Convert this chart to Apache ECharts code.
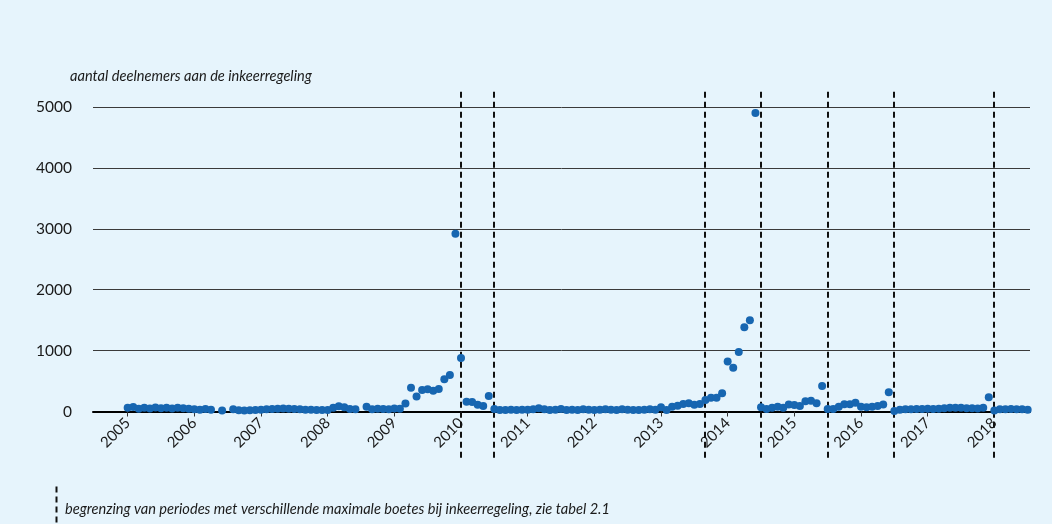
<!DOCTYPE html>
<html>
<head>
<meta charset="utf-8">
<script src="https://cdn.jsdelivr.net/npm/echarts@6/dist/echarts.min.js"></script>
<style>
html,body{margin:0;padding:0;background:#e6f4fc;}
#chart{width:1052px;height:524px;}
</style>
</head>
<body>
<div id="chart"></div>
<script>
// ---- data (monthly number of participants, Jan..Dec; null = no value) ----
const v2005 = [60, 75, 45, 60, 50, 65, 55, 60, 50, 60, 55, 45];
const v2006 = [35, 30, 40, 30, null, 15, null, 35, 20, 15, 20, 25];
const v2007 = [30, 35, 40, 45, 50, 45, 40, 35, 30, 30, 25, 25];
const v2008 = [25, 60, 85, 70, 40, 35, null, 80, 35, 45, 40, 35];
const v2009 = [50, 45, 130, 390, 245, 355, 365, 340, 370, 530, 600, 2920];
const v2010 = [880, 160, 155, 110, 90, 255, 40, 25, 25, 30, 25, 30];
const v2011 = [30, 35, 55, 35, 25, 30, 40, 25, 30, 25, 35, 30];
const v2012 = [25, 30, 35, 30, 25, 35, 30, 25, 25, 30, 35, 30];
const v2013 = [70, 25, 80, 95, 125, 135, 110, 125, 190, 225, 225, 300];
const v2014 = [820, 720, 975, 1385, 1500, 4900, 70, 40, 60, 80, 60, 115];
const v2015 = [105, 90, 170, 175, 135, 420, 40, 40, 80, 120, 120, 145];
const v2016 = [80, 70, 80, 90, 115, 315, 10, 30, 35, 35, 40, 40];
const v2017 = [45, 40, 45, 55, 60, 60, 60, 55, 55, 50, 60, 235];
const v2018 = [15, 35, 35, 40, 35, 35, 30];

const years = [2005, 2006, 2007, 2008, 2009, 2010, 2011, 2012, 2013, 2014, 2015, 2016, 2017, 2018];
const yearValues = [v2005, v2006, v2007, v2008, v2009, v2010, v2011, v2012, v2013, v2014, v2015, v2016, v2017, v2018];
const yTicks = [0, 1000, 2000, 3000, 4000, 5000];
// period boundaries (decimal years)
const boundaries = [2010, 2010.5, 2013 + 8 / 12, 2014.5, 2015.5, 2016.5, 2018];

const yTitle = 'aantal deelnemers aan de inkeerregeling';
const legendText = 'begrenzing van periodes met verschillende maximale boetes bij inkeerregeling, zie tabel 2.1';

// ---- build ----
const points = [];
years.forEach((y, i) => {
  yearValues[i].forEach((v, m) => {
    if (v !== null) points.push([y + m / 12, v]);
  });
});

const FONT = 'Lato';
const chart = echarts.init(document.getElementById('chart'), null, {renderer: 'canvas'});
chart.setOption({
  backgroundColor: '#e6f4fc',
  animation: false,
  grid: {left: 93, right: 22, top: 107, bottom: 112.5},
  title: {
    text: yTitle, left: 70, top: 69, padding: 0,
    textStyle: {fontFamily: FONT, fontStyle: 'italic', fontWeight: 'normal', fontSize: 14.6, color: '#1a1a1a'}
  },
  xAxis: {
    type: 'value', min: 2004.48, max: 2018.535,
    splitLine: {show: false},
    axisLine: {show: true, onZero: false, lineStyle: {color: '#000', width: 2}},
    axisTick: {show: true, length: 5, customValues: years, lineStyle: {color: '#333', width: 1}},
    axisLabel: {
      customValues: years, rotate: 45, margin: 9,
      fontFamily: FONT, fontSize: 15, color: '#1a1a1a',
      formatter: v => String(Math.round(v))
    }
  },
  yAxis: {
    type: 'value', min: 0, max: 5000, interval: 1000,
    axisLine: {show: false}, axisTick: {show: false},
    splitLine: {show: true, lineStyle: {color: '#3a3a3a', width: 1}},
    axisLabel: {
      margin: 21, fontFamily: FONT, fontSize: 15.5, color: '#1a1a1a',
      formatter: v => String(v)
    }
  },
  series: [
    {
      type: 'custom',
      clip: false,
      z: 1,
      data: boundaries.map(b => [b, 0]),
      encode: {x: 0, y: 1},
      renderItem: (params, api) => {
        const x = api.value(0);
        const p1 = api.coord([x, 5250]);
        const p2 = api.coord([x, -770]);
        return {
          type: 'line',
          shape: {x1: Math.round(p1[0]), y1: p1[1], x2: Math.round(p2[0]), y2: p2[1]},
          style: {stroke: '#111', lineWidth: 2, lineDash: [6, 4]}
        };
      }
    },
    {
      type: 'scatter',
      z: 3,
      symbolSize: 8,
      itemStyle: {color: '#1766b1', opacity: 1},
      data: points
    }
  ],
  graphic: [
    {
      type: 'line', left: 54, top: 484,
      shape: {x1: 0, y1: 0, x2: 0, y2: 36},
      style: {stroke: '#111', lineWidth: 2, lineDash: [6, 4]}
    },
    {
      type: 'text', left: 65, top: 502,
      style: {text: legendText, fontFamily: FONT, fontStyle: 'italic', fontSize: 14.6, fill: '#1a1a1a'}
    }
  ]
});
</script>
</body>
</html>
